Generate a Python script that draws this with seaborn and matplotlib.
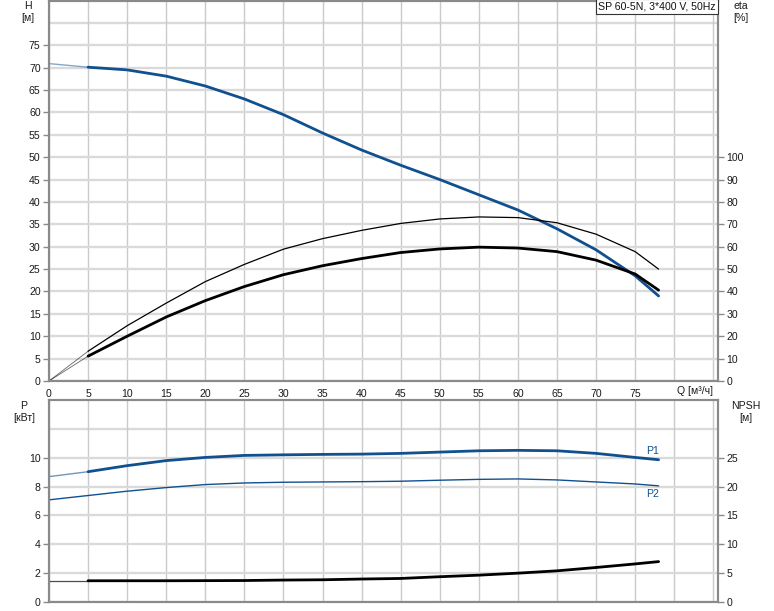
import matplotlib
matplotlib.use("Agg")
import matplotlib.pyplot as plt
import seaborn as sns

# flow points, m3/h
q = [0, 5, 10, 15, 20, 25, 30, 35, 40, 45, 50, 55, 60, 65, 70, 75, 78]
# head, m
head = [70.9, 70.1, 69.5, 68.1, 65.9, 63.0, 59.5, 55.4, 51.6, 48.2, 45.0,
        41.6, 38.2, 34.0, 29.3, 23.5, 19.0]
# efficiencies, %
eta_pump = [0, 13.3, 24.7, 34.8, 44.4, 52.1, 58.9, 63.6, 67.3, 70.4, 72.4,
            73.3, 73.0, 70.7, 65.6, 57.8, 50.0]
eta_total = [0, 11.1, 20.0, 28.6, 35.9, 42.2, 47.5, 51.5, 54.7, 57.4, 59.0,
             59.8, 59.4, 57.8, 54.0, 47.8, 40.6]
# power, kW
p1 = [8.69, 9.03, 9.45, 9.80, 10.02, 10.16, 10.20, 10.23, 10.25, 10.30, 10.39,
      10.48, 10.51, 10.48, 10.30, 10.02, 9.86]
p2 = [7.08, 7.38, 7.68, 7.93, 8.14, 8.25, 8.30, 8.32, 8.34, 8.37, 8.44,
      8.50, 8.53, 8.46, 8.32, 8.18, 8.05]
# npsh, m
npsh = [3.68, 3.68, 3.68, 3.68, 3.70, 3.72, 3.80, 3.85, 3.98, 4.08, 4.38,
        4.65, 5.00, 5.40, 5.98, 6.60, 7.00]

title = "SP 60-5N, 3*400 V, 50Hz"

sns.set_style("white")
plt.rcParams['font.family'] = ['Liberation Sans', 'DejaVu Sans']

BLUE = "#11508f"
FS = 7.6
W, H = 774, 611

fig = plt.figure(figsize=(W / 100, H / 100), dpi=100)
ax1 = fig.add_axes([49 / W, 1 - 381 / H, 669 / W, 380.5 / H])
ax1r = ax1.twinx()
ax2 = fig.add_axes([49 / W, 1 - 602 / H, 669 / W, 202 / H])
ax2r = ax2.twinx()

xt = list(range(0, 90, 5))


def style(ax):
    for s in ax.spines.values():
        s.set_color('#8a8a8a')
        s.set_linewidth(1.5)
    ax.tick_params(colors='#8a8a8a', labelcolor='#1a1a1a', labelsize=FS,
                   length=4, width=1, pad=2)


for ax in (ax1, ax1r, ax2, ax2r):
    style(ax)
    ax.set_xlim(0, 85.6)

# grids
for ax in (ax1, ax2):
    ax.set_xticks(xt)
    ax.grid(axis='x', color='#cacaca', lw=1.0)
    ax.grid(axis='y', color='#dadada', lw=1.7)
    ax.set_axisbelow(True)

# top panel
ax1.set_ylim(0, 85)
ax1.set_yticks(range(0, 80, 5))
ax1.axhline(80, color='#dadada', lw=1.7, zorder=0)
ax1.set_xticklabels([str(v) if v <= 75 else '' for v in xt])
ax1r.set_ylim(0, 170)
ax1r.set_yticks(range(0, 110, 10))

sns.lineplot(x=q[:2], y=head[:2], ax=ax1, color=BLUE, lw=1.0, alpha=0.5)
sns.lineplot(x=q[1:], y=head[1:], ax=ax1, color=BLUE, lw=2.0)

sns.lineplot(x=q[:2], y=eta_pump[:2], ax=ax1r, color='black', lw=0.6, alpha=0.6)
sns.lineplot(x=q[1:], y=eta_pump[1:], ax=ax1r, color='black', lw=0.9)
sns.lineplot(x=q[:2], y=eta_total[:2], ax=ax1r, color='black', lw=0.6, alpha=0.6)
sns.lineplot(x=q[1:], y=eta_total[1:], ax=ax1r, color='black', lw=2.0)

ax1r.text(0.997, 0.997, title, transform=ax1r.transAxes, ha='right', va='top',
          fontsize=FS, color='#111111', zorder=10,
          bbox=dict(facecolor='white', edgecolor='#333333', lw=0.8,
                    boxstyle='square,pad=0.22'))

# bottom panel
ax2.set_ylim(0, 14)
ax2.set_yticks(range(0, 12, 2))
ax2.axhline(12, color='#dadada', lw=1.7, zorder=0)
ax2.tick_params(axis='x', length=0, labelbottom=False)
ax2r.set_ylim(0, 35)
ax2r.set_yticks(range(0, 30, 5))

sns.lineplot(x=q[:2], y=p1[:2], ax=ax2, color=BLUE, lw=1.0, alpha=0.6)
sns.lineplot(x=q[1:], y=p1[1:], ax=ax2, color=BLUE, lw=2.0)
sns.lineplot(x=q, y=p2, ax=ax2, color=BLUE, lw=1.0)
sns.lineplot(x=q[:2], y=npsh[:2], ax=ax2r, color='black', lw=0.9, alpha=0.7)
sns.lineplot(x=q[1:], y=npsh[1:], ax=ax2r, color='black', lw=2.0)

ax2.text(q[-1], p1[-1] + 0.25, "P1", color=BLUE, fontsize=FS, ha='right', va='bottom')
ax2.text(q[-1], p2[-1] - 0.25, "P2", color=BLUE, fontsize=FS, ha='right', va='top')

for ax in (ax1, ax1r, ax2, ax2r):
    ax.set_xlabel('')
    ax.set_ylabel('')

# axis captions
tc = '#1a1a1a'
fig.text(28 / W, 1 - 12 / H, "H\n[м]", ha='center', va='center', fontsize=FS,
         color=tc, linespacing=1.35)
fig.text(741 / W, 1 - 12 / H, "eta\n[%]", ha='center', va='center', fontsize=FS,
         color=tc, linespacing=1.35)
fig.text(24 / W, 1 - 412 / H, "P\n[кВт]", ha='center', va='center', fontsize=FS,
         color=tc, linespacing=1.35)
fig.text(746 / W, 1 - 412 / H, "NPSH\n[м]", ha='center', va='center', fontsize=FS,
         color=tc, linespacing=1.35)
fig.text(695 / W, 1 - 391 / H, "Q [м³/ч]", ha='center', va='center', fontsize=FS,
         color=tc)

fig.savefig("out.png", dpi=100)
